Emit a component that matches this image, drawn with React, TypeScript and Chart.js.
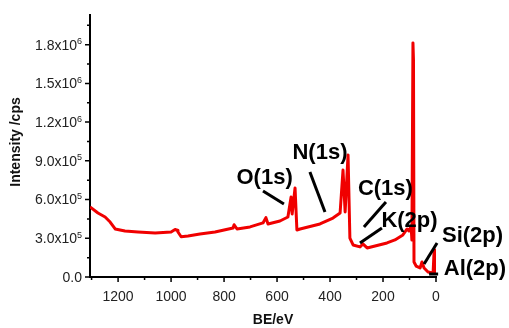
import React, { useEffect, useRef } from "react";
import { Chart, registerables } from "chart.js";

Chart.register(...registerables);

// Binding energy (eV) and intensity (cps)
const bindingEnergy = [
  1306, 1276, 1249, 1230, 1211, 1174, 1125, 1060, 1000, 985, 977, 974, 962, 936,
  891, 834, 766, 762, 751, 702, 653, 642, 634, 589, 559, 547, 543, 532, 525, 513,
  438, 389, 362, 351, 343, 332, 325, 313, 287, 276, 260, 185, 155, 125, 117, 109,
  102, 94, 91, 87, 85, 83, 75, 60, 53, 45, 30, 11, 7, 4, 0,
];
const intensity = [
  543000, 496000, 465000, 426000, 372000, 357000, 349000, 341000, 349000, 368000,
  362000, 349000, 312000, 318000, 333000, 349000, 380000, 405000, 372000, 388000,
  419000, 460000, 411000, 434000, 465000, 620000, 488000, 690000, 364000, 372000,
  411000, 457000, 496000, 829000, 504000, 946000, 302000, 248000, 233000, 256000,
  225000, 264000, 287000, 326000, 349000, 372000, 357000, 395000, 287000, 1814000,
  1682000, 116000, 85000, 70000, 116000, 70000, 39000, 31000, 209000, 31000, 23000,
];

// Axis ticks
const xTicks = [0, 200, 400, 600, 800, 1000, 1200];
const xMinorTicks = [100, 300, 500, 700, 900, 1100, 1300];
const yTicks = [0, 300000, 600000, 900000, 1200000, 1500000, 1800000];
const yMinorTicks = [150000, 450000, 750000, 1050000, 1350000, 1650000, 1950000];
const xRange = [0, 1306];
const yRange = [0, 2030000];

const xTitle = "BE/eV";
const yTitle = "Intensity /cps";

// Peak annotations (label centre in data coordinates)
const peakLabels = ["O(1s)", "N(1s)", "C(1s)", "K(2p)", "Si(2p)", "Al(2p)"];
const labelBE = [647, 438, 191, 100, -138, -147];
const labelI = [764000, 965000, 686000, 434000, 318000, 62000];
// Pointer lines (start/end in data coordinates)
const lineBE1 = [653, 476, 189, 204, -4, 26];
const lineI1 = [667000, 814000, 581000, 380000, 264000, 23000];
const lineBE2 = [574, 419, 272, 287, 45, -8];
const lineI2 = [566000, 504000, 388000, 264000, 101000, 23000];

const FONT = "'Liberation Sans', Arial, Helvetica, sans-serif";

const decor = {
  id: "decor",
  afterDraw(chart: any) {
    const { ctx, chartArea } = chart;
    const xs = chart.scales.x;
    const ys = chart.scales.y;
    ctx.save();
    // tick marks
    ctx.strokeStyle = "#000";
    ctx.lineWidth = 1.5;
    ctx.beginPath();
    yTicks.forEach((v) => {
      const p = ys.getPixelForValue(v);
      ctx.moveTo(chartArea.left - 5, p);
      ctx.lineTo(chartArea.left, p);
    });
    yMinorTicks.forEach((v) => {
      const p = ys.getPixelForValue(v);
      ctx.moveTo(chartArea.left - 3, p);
      ctx.lineTo(chartArea.left, p);
    });
    xTicks.forEach((v) => {
      const p = xs.getPixelForValue(v);
      ctx.moveTo(p, chartArea.bottom);
      ctx.lineTo(p, chartArea.bottom + 5);
    });
    xMinorTicks.forEach((v) => {
      const p = xs.getPixelForValue(v);
      ctx.moveTo(p, chartArea.bottom);
      ctx.lineTo(p, chartArea.bottom + 3);
    });
    ctx.stroke();

    // y tick labels with superscript exponent
    const right = chartArea.left - 8;
    ctx.fillStyle = "#222";
    ctx.textBaseline = "middle";
    yTicks.forEach((v) => {
      const p = ys.getPixelForValue(v);
      if (v === 0) {
        ctx.font = `14px ${FONT}`;
        ctx.textAlign = "right";
        ctx.fillText("0.0", right, p + 1);
        return;
      }
      const exp = Math.floor(Math.log10(v) + 1e-9);
      const mant = (v / Math.pow(10, exp)).toFixed(1);
      ctx.font = `9px ${FONT}`;
      ctx.textAlign = "right";
      const ew = ctx.measureText(String(exp)).width;
      ctx.fillText(String(exp), right, p - 3);
      ctx.font = `14px ${FONT}`;
      ctx.fillText(`${mant}x10`, right - ew, p + 1);
    });

    // axis titles
    ctx.fillStyle = "#111";
    ctx.font = `bold 14px ${FONT}`;
    ctx.textAlign = "center";
    ctx.textBaseline = "middle";
    ctx.fillText(xTitle, 273, 320);
    ctx.save();
    ctx.translate(16, (chartArea.top + chartArea.bottom) / 2 - 4);
    ctx.rotate(-Math.PI / 2);
    ctx.font = `bold 14px ${FONT}`;
    ctx.fillText(yTitle, 0, 0);
    ctx.restore();

    // annotations
    ctx.strokeStyle = "#000";
    ctx.lineWidth = 3;
    ctx.lineCap = "butt";
    for (let i = 0; i < peakLabels.length; i++) {
      ctx.beginPath();
      ctx.moveTo(xs.getPixelForValue(lineBE1[i]), ys.getPixelForValue(lineI1[i]));
      ctx.lineTo(xs.getPixelForValue(lineBE2[i]), ys.getPixelForValue(lineI2[i]));
      ctx.stroke();
    }
    ctx.fillStyle = "#000";
    ctx.font = `bold 22px ${FONT}`;
    ctx.textAlign = "center";
    ctx.textBaseline = "middle";
    for (let i = 0; i < peakLabels.length; i++) {
      ctx.fillText(peakLabels[i], xs.getPixelForValue(labelBE[i]), ys.getPixelForValue(labelI[i]));
    }
    ctx.restore();
  },
};

export default function App() {
  const ref = useRef<HTMLCanvasElement>(null);
  useEffect(() => {
    if (!ref.current) return;
    const chart = new Chart(ref.current, {
      type: "line",
      data: {
        datasets: [
          {
            data: bindingEnergy.map((x, i) => ({ x, y: intensity[i] })),
            borderColor: "#f00000",
            borderWidth: 3,
            pointRadius: 0,
            tension: 0,
            borderJoinStyle: "round",
            fill: false,
          },
        ],
      },
      options: {
        responsive: false,
        animation: false,
        devicePixelRatio: 1,
        layout: { padding: { left: 0, right: 73, top: 15, bottom: 0 } },
        plugins: { legend: { display: false }, tooltip: { enabled: false } },
        scales: {
          x: {
            type: "linear",
            reverse: true,
            min: xRange[0],
            max: xRange[1],
            afterBuildTicks: (s: any) => {
              s.ticks = xTicks.map((v) => ({ value: v }));
            },
            afterFit: (s: any) => {
              s.height = 51;
            },
            grid: { display: false, drawTicks: false },
            border: { display: true, color: "#000", width: 2 },
            ticks: {
              font: { family: FONT, size: 14 },
              color: "#222",
              padding: 12,
              maxRotation: 0,
              autoSkip: false,
              callback: (v: any) => String(v),
            },
          },
          y: {
            type: "linear",
            min: yRange[0],
            max: yRange[1],
            afterBuildTicks: (s: any) => {
              s.ticks = yTicks.map((v) => ({ value: v }));
            },
            afterFit: (s: any) => {
              s.width = 90;
            },
            grid: { display: false, drawTicks: false },
            border: { display: true, color: "#000", width: 2 },
            ticks: { display: false },
          },
        },
      } as any,
      plugins: [decor],
    });
    return () => chart.destroy();
  }, []);
  return (
    <div style={{ position: "absolute", left: 0, top: 0, width: 509, height: 328, background: "#fff" }}>
      <canvas ref={ref} width={509} height={328} />
    </div>
  );
}
